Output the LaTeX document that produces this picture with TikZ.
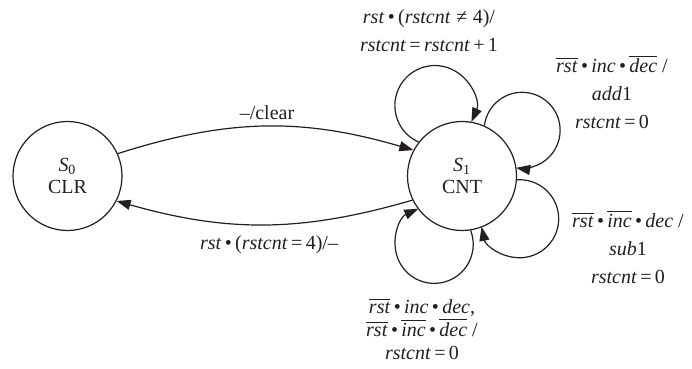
\documentclass[tikz,border=0pt]{standalone}
\usepackage{fontspec}
\setmainfont{Liberation Serif}
\usetikzlibrary{arrows.meta}
\definecolor{inkblack}{RGB}{35,31,32}
\newcommand{\sig}[1]{\textit{#1}}
\newcommand{\nsig}[1]{$\overline{\mbox{\textit{#1}}}$}
\newcommand{\andop}{\,\textbullet\,}

\begin{document}
\begin{tikzpicture}[>={Triangle[length=7pt,width=5pt]}, x=0.5pt, y=0.5pt,
    every node/.style={font=\fontsize{10}{14}\selectfont, text=inkblack}]

% Estilos de estados y transiciones
\tikzset{
    statenode/.style={
        circle,
        draw=inkblack,
        line width=0.6pt,
        minimum size=54.5pt,
        inner sep=0pt,
        align=center,
        font=\fontsize{10}{11}\selectfont
    },
    transline/.style={draw=inkblack, line width=0.6pt, ->},
    translabel/.style={align=center}
}

\useasboundingbox (0,0) rectangle (692,369);

% =============================================
% ESTADOS
% =============================================
\node[statenode] (s0) at (67.5,193) {\sig{S}\textsubscript{0}\\CLR};
\node[statenode] (s1) at (462,193) {\sig{S}\textsubscript{1}\\CNT};

% =============================================
% TRANSICIONES ENTRE ESTADOS
% =============================================
\draw[transline] (s0.24) to[bend left=17] (s1.152);
\draw[transline] (s1.206) to[bend left=16] (s0.-27);

\node[translabel] (lclear) at (267,256) {--/clear};
\node[translabel] (lback) at (269,124) {\sig{rst}\andop(\sig{rstcnt}\,=\,4)/--};

% =============================================
% BUCLES SOBRE S1 (arcos que vuelven al estado)
% =============================================
\draw[transline] (s1.142) arc[start angle=246, end angle=-24, radius=40];
\draw[transline] (s1.66) arc[start angle=173, end angle=-99, radius=38];
\draw[transline] (s1.-4) arc[start angle=94, end angle=-168, radius=39];
\draw[transline] (s1.-81) arc[start angle=21, end angle=-246, radius=39];

\node[translabel] (lcount) at (429,338)
    {\sig{rst}\andop(\sig{rstcnt}\;≠\;4)/\\
     \sig{rstcnt}\,=\,\sig{rstcnt}\,+\,1};
\node[translabel] (ladd) at (612,277)
    {\nsig{rst}\andop\sig{inc}\andop\nsig{dec} /\\
     \sig{add}1\\
     \sig{rstcnt}\,=\,0};
\node[translabel] (lsub) at (628,122)
    {\nsig{rst}\andop\nsig{inc}\andop\sig{dec} /\\
     \sig{sub}1\\
     \sig{rstcnt}\,=\,0};
\node[translabel, font=\fontsize{10}{11.5}\selectfont] (lhold) at (422,40)
    {\nsig{rst}\andop\sig{inc}\andop\sig{dec},\\
     \nsig{rst}\andop\nsig{inc}\andop\nsig{dec} /\\
     \sig{rstcnt}\,=\,0};

\end{tikzpicture}
\end{document}
